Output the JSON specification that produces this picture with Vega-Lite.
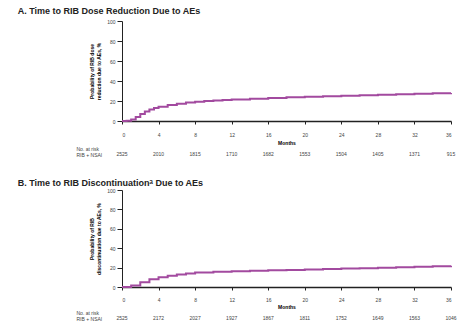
{
  "$schema": "https://vega.github.io/schema/vega-lite/v6.json",
  "padding": {"left": 17, "top": 7, "right": 0, "bottom": 0},
  "config": {
    "font": "Liberation Sans",
    "view": {"stroke": null},
    "axis": {"labelFont": "Liberation Sans", "titleFont": "Liberation Sans", "labelColor": "#444", "grid": false, "domainColor": "#222", "tickColor": "#222"}
  },
  "datasets": {
    "curveA": [
      {"m": 0, "p": 0}, {"m": 0.5, "p": 0.3}, {"m": 1, "p": 1.5}, {"m": 1.5, "p": 4}, {"m": 2, "p": 7}, {"m": 2.5, "p": 9.5},
      {"m": 3, "p": 11.5}, {"m": 3.5, "p": 13}, {"m": 4, "p": 14.3}, {"m": 5, "p": 16}, {"m": 6, "p": 17.3}, {"m": 7, "p": 18.4},
      {"m": 8, "p": 19.3}, {"m": 9, "p": 20}, {"m": 10, "p": 20.5}, {"m": 11, "p": 21}, {"m": 12, "p": 21.5}, {"m": 14, "p": 22.3},
      {"m": 16, "p": 23}, {"m": 18, "p": 23.7}, {"m": 20, "p": 24.3}, {"m": 22, "p": 24.8}, {"m": 24, "p": 25.3}, {"m": 26, "p": 25.8},
      {"m": 28, "p": 26.3}, {"m": 30, "p": 26.8}, {"m": 32, "p": 27.2}, {"m": 34, "p": 27.7}, {"m": 36, "p": 28}
    ],
    "curveB": [
      {"m": 0, "p": 0}, {"m": 1, "p": 1.5}, {"m": 2, "p": 5}, {"m": 3, "p": 8}, {"m": 4, "p": 10}, {"m": 5, "p": 11.5},
      {"m": 6, "p": 13}, {"m": 7, "p": 14}, {"m": 8, "p": 15}, {"m": 10, "p": 15.7}, {"m": 12, "p": 16.3}, {"m": 14, "p": 16.8},
      {"m": 16, "p": 17.2}, {"m": 18, "p": 17.6}, {"m": 20, "p": 18}, {"m": 22, "p": 18.5}, {"m": 24, "p": 19}, {"m": 26, "p": 19.4},
      {"m": 28, "p": 19.8}, {"m": 30, "p": 20.3}, {"m": 32, "p": 20.8}, {"m": 34, "p": 21.3}, {"m": 36, "p": 21.8}
    ],
    "riskA": [
      {"m": 0, "n": "2525", "g": "RIB + NSAI"}, {"m": 4, "n": "2010", "g": "RIB + NSAI"}, {"m": 8, "n": "1815", "g": "RIB + NSAI"},
      {"m": 12, "n": "1710", "g": "RIB + NSAI"}, {"m": 16, "n": "1682", "g": "RIB + NSAI"}, {"m": 20, "n": "1553", "g": "RIB + NSAI"},
      {"m": 24, "n": "1504", "g": "RIB + NSAI"}, {"m": 28, "n": "1405", "g": "RIB + NSAI"}, {"m": 32, "n": "1371", "g": "RIB + NSAI"},
      {"m": 36, "n": "915", "g": "RIB + NSAI"}
    ],
    "riskB": [
      {"m": 0, "n": "2525", "g": "RIB + NSAI"}, {"m": 4, "n": "2172", "g": "RIB + NSAI"}, {"m": 8, "n": "2027", "g": "RIB + NSAI"},
      {"m": 12, "n": "1927", "g": "RIB + NSAI"}, {"m": 16, "n": "1867", "g": "RIB + NSAI"}, {"m": 20, "n": "1811", "g": "RIB + NSAI"},
      {"m": 24, "n": "1752", "g": "RIB + NSAI"}, {"m": 28, "n": "1649", "g": "RIB + NSAI"}, {"m": 32, "n": "1563", "g": "RIB + NSAI"},
      {"m": 36, "n": "1046", "g": "RIB + NSAI"}
    ]
  },
  "spacing": 22,
  "vconcat": [
    {
      "spacing": 0,
      "vconcat": [
        {
          "title": {"text": "A. Time to RIB Dose Reduction Due to AEs", "anchor": "start", "fontSize": 9, "fontWeight": "bold", "color": "#222", "dx": -72, "offset": 3},
          "width": 329, "height": 100,
          "data": {"name": "curveA"},
          "mark": {"type": "line", "interpolate": "step-after", "color": "#a24a9f", "strokeWidth": 2},
          "encoding": {
            "x": {"field": "m", "type": "quantitative", "scale": {"domain": [0, 36], "nice": false},
                  "axis": {"values": [0,4,8,12,16,20,24,28,32,36], "title": "Months", "titleFontSize": 5, "titleFontWeight": "bold", "titlePadding": 3, "labelFontSize": 5, "tickSize": 3, "labelPadding": 8, "domainWidth": 1.5}},
            "y": {"field": "p", "type": "quantitative", "scale": {"domain": [0, 100]},
                  "axis": {"values": [0,20,40,60,80,100], "title": ["Probability of RIB dose", "reduction due to AEs, %"], "titleFontSize": 5, "titleFontWeight": "bold", "labelFontSize": 5, "tickSize": 5, "titlePadding": 5, "labelPadding": 2}}
          }
        },
        {
          "width": 329, "height": 12,
          "data": {"name": "riskA"},
          "mark": {"type": "text", "fontSize": 5, "color": "#444"},
          "encoding": {
            "x": {"field": "m", "type": "quantitative", "scale": {"domain": [0, 36], "nice": false}, "axis": null},
            "y": {"field": "g", "type": "nominal", "scale": {"type": "point", "domain": ["No. at risk", "RIB + NSAI"], "padding": 0.5},
                  "axis": {"title": null, "domain": false, "ticks": false, "labelAlign": "left", "labelPadding": 46, "labelFontSize": 5, "labelColor": "#444"}},
            "text": {"field": "n"}
          }
        }
      ]
    },
    {
      "spacing": 0,
      "vconcat": [
        {
          "title": {"text": "B. Time to RIB Discontinuationᵃ Due to AEs", "anchor": "start", "fontSize": 9, "fontWeight": "bold", "color": "#222", "dx": -72, "offset": 0},
          "width": 329, "height": 97,
          "data": {"name": "curveB"},
          "mark": {"type": "line", "interpolate": "step-after", "color": "#a24a9f", "strokeWidth": 2},
          "encoding": {
            "x": {"field": "m", "type": "quantitative", "scale": {"domain": [0, 36], "nice": false},
                  "axis": {"values": [0,4,8,12,16,20,24,28,32,36], "title": "Months", "titleFontSize": 5, "titleFontWeight": "bold", "titlePadding": 2, "labelFontSize": 5, "tickSize": 3, "labelPadding": 7, "domainWidth": 1.5}},
            "y": {"field": "p", "type": "quantitative", "scale": {"domain": [0, 100]},
                  "axis": {"values": [0,20,40,60,80,100], "title": ["Probability of RIB", "discontinuation due to AEs, %"], "titleFontSize": 5, "titleFontWeight": "bold", "labelFontSize": 5, "tickSize": 5, "titlePadding": 5, "labelPadding": 2}}
          }
        },
        {
          "width": 329, "height": 12,
          "data": {"name": "riskB"},
          "mark": {"type": "text", "fontSize": 5, "color": "#444"},
          "encoding": {
            "x": {"field": "m", "type": "quantitative", "scale": {"domain": [0, 36], "nice": false}, "axis": null},
            "y": {"field": "g", "type": "nominal", "scale": {"type": "point", "domain": ["No. at risk", "RIB + NSAI"], "padding": 0.5},
                  "axis": {"title": null, "domain": false, "ticks": false, "labelAlign": "left", "labelPadding": 46, "labelFontSize": 5, "labelColor": "#444"}},
            "text": {"field": "n"}
          }
        }
      ]
    }
  ]
}
